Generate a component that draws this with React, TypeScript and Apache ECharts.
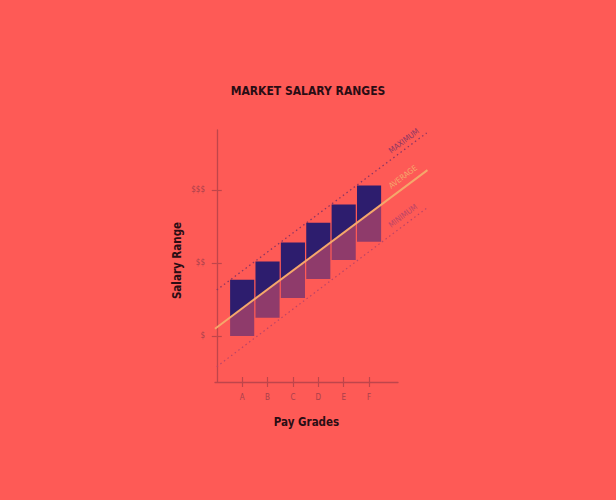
import React, { useEffect, useRef } from 'react';
import * as echarts from 'echarts';

const BG_COLOR = '#fe5a56';
const AXIS_COLOR = '#bf454b';
const LABEL_COLOR = '#a8404b';
const TEXT_COLOR = '#2a0d14';
const BAR_TOP_COLOR = '#2d1d6e';
const BAR_BOTTOM_COLOR = '#8f3b6b';
const AVG_COLOR = '#f5a76b';
const MAX_COLOR = '#8c3663';
const MIN_COLOR = '#bb4466';
const FONT = '"DejaVu Sans Condensed", "DejaVu Sans", sans-serif';

// pay grades and the salary band of each one
const grades = ['A', 'B', 'C', 'D', 'E', 'F'];
const gradePos = [1, 2, 3, 4, 5, 6];
const rangeMin = [1.0, 1.25, 1.52, 1.78, 2.04, 2.29];
const rangeMax = [1.77, 2.02, 2.28, 2.55, 2.8, 3.06];

// y ticks
const yTickValues = [1, 2, 3];
const yTickLabels = ['$', '$$', '$$$'];

// market lines (start / end)
const avgLineX = [-0.07, 8.3];
const avgLineY = [1.1, 3.27];
const maxLineX = [0, 8.27];
const maxLineY = [1.63, 3.78];
const minLineX = [0, 8.27];
const minLineY = [0.58, 2.75];

const X_MIN = -0.07;
const X_MAX = 7.14; // end of the drawn x axis
const X_MAX_DRAW = 8.35; // the market lines run past the axis
const Y_MIN = 0.37;
const Y_MAX = 3.82;
const HALF_BAR = 0.475;

const GRID_LEFT = 215;
const GRID_RIGHT = 218;
const PX_PER_X = (616 - GRID_LEFT - GRID_RIGHT) / (X_MAX - X_MIN);

const avgAt = (x: number) =>
  avgLineY[0] + ((x - avgLineX[0]) * (avgLineY[1] - avgLineY[0])) / (avgLineX[1] - avgLineX[0]);

const tickStyle = { color: AXIS_COLOR, width: 1.2 };

const App = (): JSX.Element => {
  const divEL = useRef(null);

  const option: any = {
    animation: false,
    backgroundColor: BG_COLOR,
    title: {
      text: 'MARKET SALARY RANGES',
      left: 'center',
      top: 80,
      textStyle: { color: TEXT_COLOR, fontSize: 12, fontWeight: 'bold', fontFamily: FONT },
    },
    grid: [
      // plot area, wide enough for the lines to run out
      {
        left: GRID_LEFT,
        right: 616 - GRID_LEFT - (X_MAX_DRAW - X_MIN) * PX_PER_X,
        top: 130,
        bottom: 118,
      },
      // drawn axes
      { left: GRID_LEFT, right: GRID_RIGHT, top: 130, bottom: 118 },
    ],
    xAxis: [
      { type: 'value', gridIndex: 0, min: X_MIN, max: X_MAX_DRAW, show: false },
      {
        type: 'value',
        gridIndex: 1,
        position: 'bottom',
        min: X_MIN,
        max: X_MAX,
        name: 'Pay Grades',
        nameLocation: 'middle',
        nameGap: 34,
        nameTextStyle: { color: TEXT_COLOR, fontSize: 11.5, fontWeight: 'bold', fontFamily: FONT },
        axisLine: { lineStyle: { color: AXIS_COLOR, width: 1.3 } },
        axisTick: { show: true, length: 5, customValues: gradePos, lineStyle: tickStyle },
        axisLabel: {
          customValues: gradePos,
          margin: 11,
          color: LABEL_COLOR,
          fontSize: 8,
          fontFamily: FONT,
          formatter: (v: number) => grades[Math.round(v) - 1] || '',
        },
        splitLine: { show: false },
      },
      {
        type: 'value',
        gridIndex: 1,
        position: 'bottom',
        min: X_MIN,
        max: X_MAX,
        axisLine: { show: false },
        axisTick: { show: true, inside: true, length: 5, customValues: gradePos, lineStyle: tickStyle },
        axisLabel: { show: false },
        splitLine: { show: false },
      },
    ],
    yAxis: [
      { type: 'value', gridIndex: 0, min: Y_MIN, max: Y_MAX, show: false },
      {
        type: 'value',
        gridIndex: 1,
        position: 'left',
        min: Y_MIN,
        max: Y_MAX,
        name: 'Salary Range',
        nameLocation: 'middle',
        nameGap: 32,
        nameTextStyle: {
          color: TEXT_COLOR,
          fontSize: 11.5,
          fontWeight: 'bold',
          fontFamily: FONT,
          padding: [0, 9, 0, 0],
        },
        axisLine: { show: true, lineStyle: { color: AXIS_COLOR, width: 1.3 } },
        axisTick: { show: true, length: 5, customValues: yTickValues, lineStyle: tickStyle },
        axisLabel: {
          customValues: yTickValues,
          margin: 10,
          color: LABEL_COLOR,
          fontSize: 8,
          fontFamily: FONT,
          formatter: (v: number) => yTickLabels[Math.round(v) - 1] || '',
        },
        splitLine: { show: false },
      },
      {
        type: 'value',
        gridIndex: 1,
        position: 'left',
        min: Y_MIN,
        max: Y_MAX,
        axisLine: { show: false },
        axisTick: { show: true, inside: true, length: 5, customValues: yTickValues, lineStyle: tickStyle },
        axisLabel: { show: false },
        splitLine: { show: false },
      },
    ],
    graphic: [
      {
        type: 'text',
        x: 404,
        y: 141,
        rotation: 0.645,
        style: { text: 'MAXIMUM', fill: MAX_COLOR, fontSize: 8, fontFamily: FONT, align: 'center', verticalAlign: 'middle' },
      },
      {
        type: 'text',
        x: 403,
        y: 177,
        rotation: 0.645,
        style: { text: 'AVERAGE', fill: AVG_COLOR, fontSize: 8, fontFamily: FONT, align: 'center', verticalAlign: 'middle' },
      },
      {
        type: 'text',
        x: 403,
        y: 216,
        rotation: 0.645,
        style: { text: 'MINIMUM', fill: MIN_COLOR, fontSize: 8, fontFamily: FONT, align: 'center', verticalAlign: 'middle' },
      },
    ],
    series: [
      {
        name: 'Maximum',
        type: 'line',
        xAxisIndex: 0,
        yAxisIndex: 0,
        symbol: 'none',
        data: maxLineX.map((x, i) => [x, maxLineY[i]]),
        lineStyle: { color: MAX_COLOR, width: 1.3, type: [1.5, 3] },
        z: 1,
      },
      {
        name: 'Minimum',
        type: 'line',
        xAxisIndex: 0,
        yAxisIndex: 0,
        symbol: 'none',
        data: minLineX.map((x, i) => [x, minLineY[i]]),
        lineStyle: { color: MIN_COLOR, width: 1.2, type: [1.5, 3] },
        z: 1,
      },
      {
        name: 'Range',
        type: 'custom',
        xAxisIndex: 0,
        yAxisIndex: 0,
        z: 2,
        data: gradePos.map((x, i) => [x, rangeMin[i], rangeMax[i]]),
        renderItem: (params: any, api: any) => {
          const x = api.value(0);
          const lo = api.value(1);
          const hi = api.value(2);
          const xl = x - HALF_BAR;
          const xr = x + HALF_BAR;
          const topPts = [api.coord([xl, hi]), api.coord([xr, hi]), api.coord([xr, avgAt(xr)]), api.coord([xl, avgAt(xl)])];
          const botPts = [api.coord([xl, avgAt(xl)]), api.coord([xr, avgAt(xr)]), api.coord([xr, lo]), api.coord([xl, lo])];
          return {
            type: 'group',
            children: [
              { type: 'polygon', shape: { points: topPts }, style: { fill: BAR_TOP_COLOR } },
              { type: 'polygon', shape: { points: botPts }, style: { fill: BAR_BOTTOM_COLOR } },
            ],
          };
        },
      },
      {
        name: 'Average',
        type: 'line',
        xAxisIndex: 0,
        yAxisIndex: 0,
        symbol: 'none',
        data: avgLineX.map((x, i) => [x, avgLineY[i]]),
        lineStyle: { color: AVG_COLOR, width: 2 },
        z: 3,
      },
    ],
  };

  useEffect(() => {
    const chartDOM = divEL.current;
    const instance = echarts.init(chartDOM as any, null, { renderer: 'svg' });
    instance.setOption(option);
    return () => {
      instance.dispose();
    };
  }, []);

  return (
    <div
      ref={divEL}
      style={{ position: 'fixed', left: 0, top: 0, width: 616, height: 500 }}
    ></div>
  );
};

export default App;
